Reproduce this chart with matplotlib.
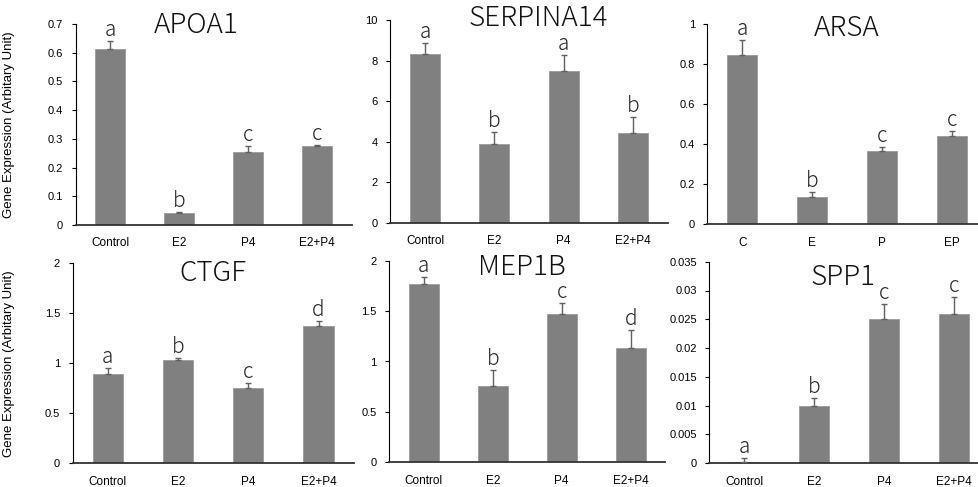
import numpy as np
import matplotlib
matplotlib.use('Agg')
import matplotlib.pyplot as plt
from matplotlib.ticker import FuncFormatter

# data
genes = ['APOA1', 'SERPINA14', 'ARSA', 'CTGF', 'MEP1B', 'SPP1']
groups_std = ['Control', 'E2', 'P4', 'E2+P4']
groups_arsa = ['C', 'E', 'P', 'EP']

apoa1 = [0.612, 0.043, 0.255, 0.275]
apoa1_err = [0.028, 0.004, 0.020, 0.004]
serpina14 = [8.32, 3.88, 7.48, 4.41]
serpina14_err = [0.53, 0.61, 0.79, 0.79]
arsa = [0.845, 0.133, 0.365, 0.44]
arsa_err = [0.075, 0.027, 0.02, 0.025]
ctgf = [0.89, 1.033, 0.756, 1.376]
ctgf_err = [0.06, 0.023, 0.044, 0.05]
mep1b = [1.766, 0.757, 1.47, 1.13]
mep1b_err = [0.074, 0.163, 0.11, 0.18]
spp1 = [0.0003, 0.0100, 0.0250, 0.0259]
spp1_err = [0.0007, 0.0013, 0.0026, 0.0029]

apoa1_sig = ['a', 'b', 'c', 'c']
serpina14_sig = ['a', 'b', 'a', 'b']
arsa_sig = ['a', 'b', 'c', 'c']
ctgf_sig = ['a', 'b', 'c', 'd']
mep1b_sig = ['a', 'b', 'c', 'd']
spp1_sig = ['a', 'b', 'c', 'c']

ymax = [0.7, 10, 1, 2, 2, 0.035]
ystep = [0.1, 2, 0.2, 0.5, 0.5, 0.005]

panels = [
    (apoa1, apoa1_err, apoa1_sig, groups_std),
    (serpina14, serpina14_err, serpina14_sig, groups_std),
    (arsa, arsa_err, arsa_sig, groups_arsa),
    (ctgf, ctgf_err, ctgf_sig, groups_std),
    (mep1b, mep1b_err, mep1b_sig, groups_std),
    (spp1, spp1_err, spp1_sig, groups_std),
]

# layout (pixels of a 979x487 canvas): left, top, width, height
W, H = 979, 487
boxes = [
    (75.5, 24, 276, 201),
    (390.3, 20, 277.4, 202.7),
    (707.4, 24, 279.2, 200),
    (72.5, 263.3, 281.2, 200),
    (389.2, 260.7, 276, 201.6),
    (709.3, 261.7, 280, 201.6),
]
title_pos = [(0.437, 0.995), (0.534, 1.01), (0.499, 0.98),
             (0.50, 0.95), (0.48, 0.97), (0.479, 0.925)]

narrow = ['Noto Sans CJK JP', 'DejaVu Sans']
plt.rcParams['font.family'] = ['Liberation Sans', 'DejaVu Sans']

fig = plt.figure(figsize=(W / 100, H / 100), dpi=100)

for i, (vals, errs, sig, labels) in enumerate(panels):
    l, t, w, h = boxes[i]
    ax = fig.add_axes([l / W, (H - t - h) / H, w / W, h / H])
    x = np.arange(len(vals))
    ax.bar(x, vals, width=0.43, color='#808080', edgecolor='#9a9a9a', linewidth=0.6, zorder=2)
    ax.errorbar(x, vals, yerr=[np.zeros(len(errs)), errs], fmt='none',
                ecolor='#606060', elinewidth=1, capsize=2, capthick=1, zorder=3)
    for xi, v, e, s in zip(x, vals, errs, sig):
        ax.annotate(s, (xi, v + e), xytext=(0, 0), textcoords='offset points',
                    ha='center', va='bottom', fontsize=15, family=narrow,
                    fontweight='light', color='#222222')

    ax.set_xlim(-0.5, len(vals) - 0.5)
    ax.set_ylim(0, ymax[i])
    ax.set_yticks(np.arange(0, ymax[i] + ystep[i] / 2, ystep[i]))
    ax.yaxis.set_major_formatter(FuncFormatter(lambda v, p: f'{round(v, 4):g}'))
    ax.set_xticks(x)
    ax.set_xticklabels(labels, fontsize=8.5)
    ax.tick_params(axis='x', length=0, pad=9)
    ax.tick_params(axis='y', length=3, width=0.8, labelsize=8, pad=6)
    for sp in ['top', 'right']:
        ax.spines[sp].set_visible(False)
    ax.spines['left'].set_linewidth(0.8)
    ax.spines['bottom'].set_linewidth(1.3)
    ax.spines['bottom'].set_color('#333333')

    tx, ty = title_pos[i]
    ax.text(tx, ty, genes[i], transform=ax.transAxes, ha='center', va='center',
            fontsize=20, family=narrow, fontweight='light', color='#111111')

    if i in (0, 3):
        ax.set_ylabel('Gene Expression (Arbitary Unit)', fontsize=9.5)
        ax.yaxis.set_label_coords((15 - l) / w, 0.5)

fig.savefig('out.png', dpi=100)
